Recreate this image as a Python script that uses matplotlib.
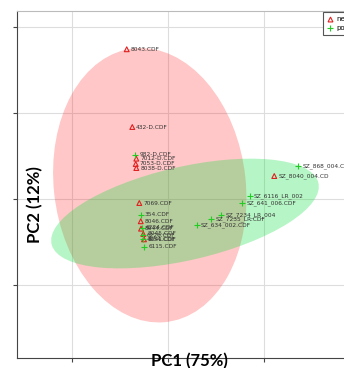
import matplotlib
matplotlib.use("Agg")
import matplotlib.pyplot as plt
from matplotlib.patches import Ellipse
from matplotlib.lines import Line2D

# negative group (red triangles)
neg_names = ["8043.CDF", "432-D.CDF", "7012-D.CDF", "7053-D.CDF", "8038-D.CDF",
             "7069.CDF", "8046.CDF", "8044.CDF", "8045.CDF", "8041.CDF",
             "SZ_8040_004.CD"]
neg_pc1 = [-0.430, -0.372, -0.330, -0.336, -0.330, -0.299, -0.284, -0.281, -0.257, -0.250, 1.107]
neg_pc2 = [1.741, 0.837, 0.469, 0.407, 0.360, -0.047, -0.259, -0.345, -0.407, -0.469, 0.267]

# positive group (green crosses)
pos_names = ["982-D.CDF", "354.CDF", "6224.CDF", "6226.CDF", "4054.CDF", "6115.CDF",
             "SZ_868_004.CD", "SZ_6116_LR_002", "SZ_641_006.CDF", "SZ_7234_LR_004",
             "SZ_7235_LR.CDF", "SZ_634_002.CDF"]
pos_pc1 = [-0.341, -0.284, -0.274, -0.264, -0.264, -0.247, 1.357, 0.854, 0.774, 0.555, 0.451, 0.299]
pos_pc2 = [0.512, -0.186, -0.334, -0.422, -0.469, -0.555, 0.387, 0.031, -0.043, -0.190, -0.233, -0.299]

# confidence ellipses: center, width, height, angle
neg_ell = [(-0.19, 0.16), 2.0, 3.2, 5.5]
pos_ell = [(0.177, -0.169), 2.87, 1.08, 14.8]

fig = plt.figure(figsize=(3.44, 3.68), dpi=100)
ax = fig.add_axes([17/344, 10/368, 345/344, 347/368])

ax.add_patch(Ellipse(neg_ell[0], neg_ell[1], neg_ell[2], angle=neg_ell[3],
                     facecolor="#ff2020", alpha=0.25, edgecolor="none", zorder=1))
ax.add_patch(Ellipse(pos_ell[0], pos_ell[1], pos_ell[2], angle=pos_ell[3],
                     facecolor="#10e040", alpha=0.3, edgecolor="none", zorder=1))

ax.scatter(neg_pc1, neg_pc2, marker="^", facecolors="none", edgecolors="#e02020",
           s=12, linewidths=0.8, zorder=3)
ax.scatter(pos_pc1, pos_pc2, marker="+", color="#22cc22", s=18, linewidths=0.8, zorder=3)

for name, x, y in zip(neg_names, neg_pc1, neg_pc2):
    ax.annotate(name, (x, y), xytext=(2.8, 0), textcoords="offset points",
                fontsize=4.2, color="#333333", va="center", zorder=4)
for name, x, y in zip(pos_names, pos_pc1, pos_pc2):
    ax.annotate(name, (x, y), xytext=(2.8, 0), textcoords="offset points",
                fontsize=4.2, color="#333333", va="center", zorder=4)

ax.set_xlim(-1.573, 2.021)
ax.set_ylim(-1.849, 2.186)
ax.set_xticks([-1, 0, 1, 2])
ax.set_yticks([-1, 0, 1, 2])
ax.tick_params(labelleft=False, labelbottom=False, length=3, color="#444444", width=0.8)
ax.grid(True, color="#dddddd", linewidth=0.8, zorder=0)
ax.set_axisbelow(True)
ax.spines["top"].set_color("#bbbbbb")
ax.spines["right"].set_color("#bbbbbb")
ax.spines["left"].set_color("#444444")
ax.spines["bottom"].set_color("#444444")

handles = [Line2D([], [], marker="^", linestyle="none", markerfacecolor="none",
                  markeredgecolor="#e02020", markersize=3.5, markeredgewidth=0.8),
           Line2D([], [], marker="+", linestyle="none", color="#22cc22",
                  markersize=4.5, markeredgewidth=0.8)]
leg = ax.legend(handles, ["neg", "pos"], loc="upper left",
                bbox_to_anchor=(323/344, 1 - 12/368), bbox_transform=fig.transFigure,
                borderaxespad=0, fontsize=5, fancybox=False, framealpha=1,
                edgecolor="#555555", handlelength=0.8, handletextpad=0.5,
                borderpad=0.6, labelspacing=0.45)
leg.get_frame().set_linewidth(0.8)

fig.text(35/344, 1 - 205/368, "PC2 (12%)", rotation=90, ha="center", va="center",
         fontsize=12, fontweight="bold", family="Lato", color="black")
fig.text(189/344, 1 - 353/368, "PC1 (75%)", ha="center", va="top",
         fontsize=12, fontweight="bold", family="Lato", color="black")

fig.savefig("out.png", dpi=100)
